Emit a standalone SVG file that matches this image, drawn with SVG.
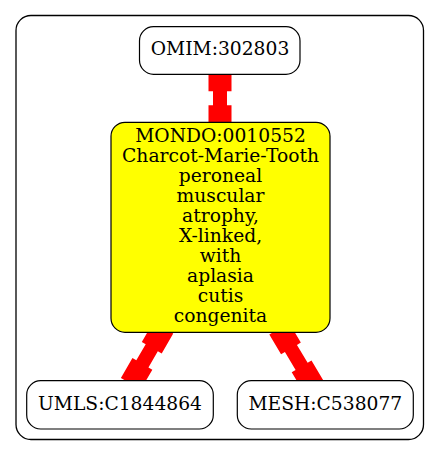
<svg xmlns="http://www.w3.org/2000/svg" width="440" height="456" viewBox="0 0 440 456">
<style>
text{font-family:"DejaVu Serif","Liberation Serif",serif;font-size:18.7px;text-anchor:middle;fill:#000}
.node{fill:#fff;stroke:#000;stroke-width:1.2}
.edge{fill:#f00;stroke:none}
</style>
<rect width="440" height="456" fill="#fff"/>
<g id="cluster">
<rect x="16" y="15.5" width="407.5" height="424" rx="15" ry="15" fill="#fff" stroke="#000" stroke-width="1.3"/>
</g>
<g id="edges">
<polygon class="edge" transform="translate(220,68.3)" points="-11.5,0 11.5,0 11.5,23 7,23 7,37 11.5,37 11.5,60 -11.5,60 -11.5,37 -7,37 -7,23 -11.5,23"/>
<polygon class="edge" transform="translate(163.3,327.8) rotate(30.1)" points="-11.5,0 11.5,0 11.5,23 7,23 7,41.7 11.5,41.7 11.5,64.7 -11.5,64.7 -11.5,41.7 -7,41.7 -7,23 -11.5,23"/>
<polygon class="edge" transform="translate(279.2,328.7) rotate(-30.7)" points="-11.5,0 11.5,0 11.5,23 7,23 7,43.9 11.5,43.9 11.5,66.9 -11.5,66.9 -11.5,43.9 -7,43.9 -7,23 -11.5,23"/>
</g>
<g id="omim">
<rect class="node" x="139.5" y="26.7" width="160.5" height="47.6" rx="14" ry="14"/>
<text x="220" y="55">OMIM:302803</text>
</g>
<g id="mondo">
<rect class="node" x="111" y="122.3" width="219" height="210" rx="14" ry="14" style="fill:#ff0"/>
<text x="220.5" y="142.3">MONDO:0010552</text>
<text x="220.5" y="162.3">Charcot-Marie-Tooth</text>
<text x="220.5" y="182.3">peroneal</text>
<text x="220.5" y="202.3">muscular</text>
<text x="220.5" y="222.3">atrophy,</text>
<text x="220.5" y="242.3">X-linked,</text>
<text x="220.5" y="262.3">with</text>
<text x="220.5" y="282.3">aplasia</text>
<text x="220.5" y="302.3">cutis</text>
<text x="220.5" y="322.3">congenita</text>
</g>
<g id="umls">
<rect class="node" x="26.7" y="380.7" width="186.6" height="48.3" rx="14" ry="14"/>
<text x="120" y="410">UMLS:C1844864</text>
</g>
<g id="mesh">
<rect class="node" x="237.3" y="380.7" width="176" height="48.3" rx="14" ry="14"/>
<text x="325.3" y="410">MESH:C538077</text>
</g>
</svg>
